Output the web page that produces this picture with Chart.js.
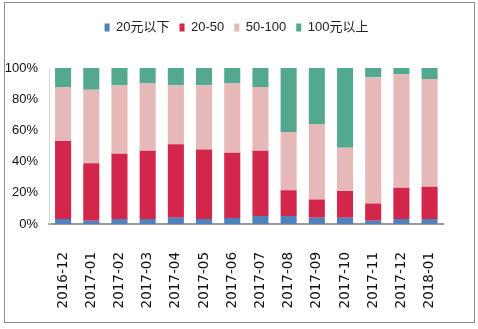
<!DOCTYPE html>
<html>
<head>
<meta charset="utf-8">
<script src="https://cdn.jsdelivr.net/npm/chart.js@4"></script>
<style>
  body { margin: 0; background: #fff; }
  #frame { position: absolute; left: 4px; top: 2px; width: 469px; height: 319px; border: 1px solid #8c8c8c; }
  #myChart { display: block; }
</style>
</head>
<body>
<div id="frame"><canvas id="myChart" width="469" height="319"></canvas></div>
<script>
var months = ['2016-12','2017-01','2017-02','2017-03','2017-04','2017-05','2017-06',
              '2017-07','2017-08','2017-09','2017-10','2017-11','2017-12','2018-01'];
var below20 = [3.2, 2.1, 3.2, 3.2, 4.0, 3.2, 3.8, 5.1, 5.1, 4.0, 4.0, 2.1, 3.2, 3.2];
var from20to50 = [50.0, 36.8, 41.9, 43.8, 47.1, 44.5, 41.9, 41.9, 16.6, 11.7, 17.1, 11.1, 20.0, 20.6];
var from50to100 = [34.7, 47.1, 43.8, 43.0, 37.8, 41.2, 44.3, 40.9, 37.2, 48.1, 27.8, 80.8, 72.8, 69.2];
var above100 = [12.1, 14.0, 11.1, 10.0, 11.1, 11.1, 10.0, 12.1, 41.1, 36.2, 51.1, 6.0, 4.0, 7.0];
var yTicks = [0, 20, 40, 60, 80, 100];

var textFont = "'Liberation Sans', 'Noto Sans CJK SC', sans-serif";

function set(label, data, color) {
  return { label: label, data: data, backgroundColor: color, borderWidth: 0,
           barPercentage: 0.57, categoryPercentage: 1.0 };
}

// push the plot area down below the legend
var legendGap = {
  id: 'legendGap',
  beforeInit: function (chart) {
    var fit = chart.legend.fit;
    chart.legend.fit = function () {
      fit.call(this);
      this.height += 24;
    };
  }
};

var ctx = document.getElementById('myChart');
new Chart(ctx, {
  type: 'bar',
  data: {
    labels: months,
    datasets: [
      set('20元以下', below20, '#4f81bd'),
      set('20-50', from20to50, '#d2264b'),
      set('50-100', from50to100, '#e6b9b8'),
      set('100元以上', above100, '#53a98f')
    ]
  },
  plugins: [legendGap],
  options: {
    responsive: false,
    animation: false,
    layout: { padding: { top: 8, right: 6, left: 0, bottom: 0 } },
    plugins: {
      tooltip: { enabled: false },
      legend: {
        position: 'top',
        labels: {
          boxWidth: 5, boxHeight: 8, padding: 10, color: '#222',
          font: { size: 13, family: textFont }
        }
      }
    },
    scales: {
      x: {
        stacked: true,
        grid: { display: false, drawTicks: false },
        border: { display: true, color: '#999', width: 2 },
        ticks: {
          color: '#111', minRotation: 90, maxRotation: 90, padding: 28, autoSkip: false,
          font: { size: 13.5, family: "'DejaVu Sans', sans-serif" }
        },
        afterFit: function (s) { s.height = 98; }
      },
      y: {
        stacked: true, min: 0, max: 100,
        afterBuildTicks: function (s) { s.ticks = yTicks.map(function (v) { return { value: v }; }); },
        grid: { display: false, drawTicks: false },
        border: { display: true, color: '#d9d9d9', width: 1 },
        ticks: {
          color: '#111', padding: 11,
          font: { size: 13, family: textFont },
          callback: function (v) { return v + '%'; }
        },
        afterFit: function (s) { s.width = 44; }
      }
    }
  }
});
</script>
</body>
</html>
